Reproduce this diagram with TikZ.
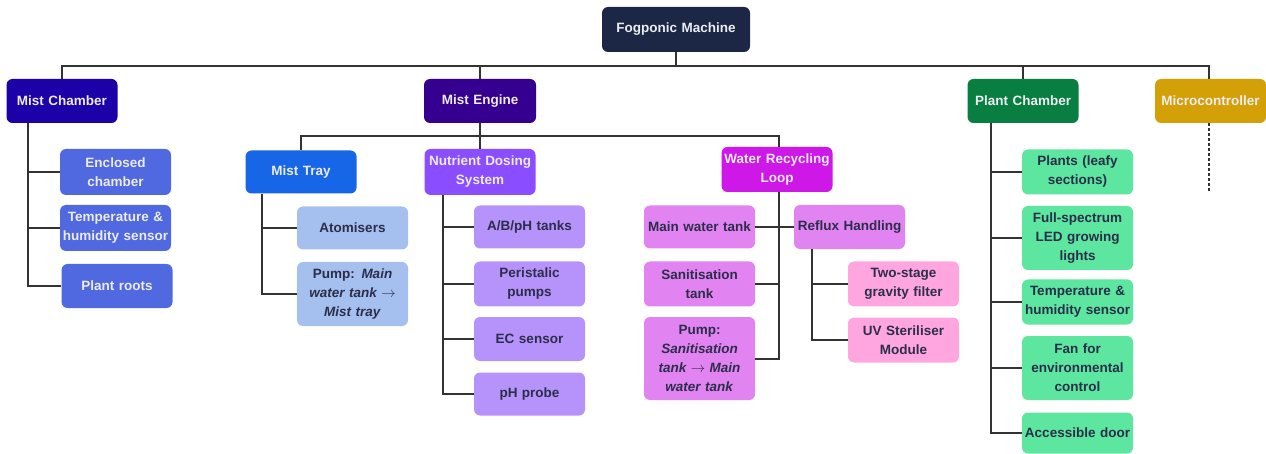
\documentclass[tikz,border=0pt]{standalone}
\usepackage{fontspec}
\setmainfont{Liberation Sans}
\definecolor{rootc}{HTML}{1B2744}
\definecolor{mcc}{HTML}{1C00A8}
\definecolor{mec}{HTML}{35008F}
\definecolor{pcc}{HTML}{087F40}
\definecolor{microc}{HTML}{D4A007}
\definecolor{mcchild}{HTML}{5068E0}
\definecolor{mtc}{HTML}{1766E8}
\definecolor{mtchild}{HTML}{A5C0EE}
\definecolor{ndsc}{HTML}{8A4DFF}
\definecolor{ndschild}{HTML}{B593FB}
\definecolor{wrlc}{HTML}{CD18E8}
\definecolor{wrlchild}{HTML}{E183F1}
\definecolor{refchild}{HTML}{FFA6E0}
\definecolor{pcchild}{HTML}{5CE6A0}
\definecolor{darktext}{HTML}{2B2E4A}
\definecolor{lighttext}{HTML}{ECECF4}
\definecolor{linec}{HTML}{333333}
\newcommand{\myarrow}{$\rightarrow$}
\begin{document}
\begin{tikzpicture}[x=1pt,y=-1pt,
  box/.style={rounded corners=6pt, inner sep=0pt, minimum width=111pt, text width=108pt,
    align=center, font=\fontsize{13.5}{19}\selectfont\bfseries},
  light/.style={box, text=lighttext},
  dark/.style={box, text=darktext},
  conn/.style={draw=linec, line width=2pt}]
\useasboundingbox (0,0) rectangle (1266,454);
% root and level 1
\node[light, fill=rootc, minimum width=148pt, text width=145pt, minimum height=45pt] (root) at (676,29.5) {Fogponic Machine};
\node[light, fill=mcc, minimum height=44pt] (mc) at (62,101) {Mist Chamber};
\node[light, fill=mec, minimum width=112pt, minimum height=44pt] (me) at (480,101) {Mist Engine};
\node[light, fill=pcc, minimum height=44pt] (pc) at (1023,101) {Plant Chamber};
\node[light, fill=microc, minimum height=44pt] (micro) at (1210.5,101) {Microcontroller};
% mist chamber children
\node[light, fill=mcchild, minimum height=46pt] (enc) at (115.5,172) {Enclosed\\chamber};
\node[light, fill=mcchild, minimum height=46pt] (mctemp) at (115.5,228) {Temperature \&\\humidity sensor};
\node[light, fill=mcchild, minimum height=44pt] (roots) at (117,286) {Plant roots};
% mist engine children
\node[light, fill=mtc, minimum height=43pt] (mt) at (301,172) {Mist Tray};
\node[light, fill=ndsc, minimum height=46pt] (nds) at (480,172) {Nutrient Dosing\\System};
\node[light, fill=wrlc, minimum height=45pt] (wrl) at (777,169.5) {Water Recycling\\Loop};
% mist tray children
\node[dark, fill=mtchild, minimum height=43pt] (atom) at (352.5,228) {Atomisers};
\node[dark, fill=mtchild, minimum height=64pt] (pump1) at (352.5,294) {Pump: \textit{Main}\\\textit{water tank \myarrow}\\\textit{Mist tray}};
% nutrient dosing children
\node[dark, fill=ndschild, minimum height=43pt] (abph) at (529.5,227) {A/B/pH tanks};
\node[dark, fill=ndschild, minimum height=45pt] (peri) at (529.5,284) {Peristalic\\pumps};
\node[dark, fill=ndschild, minimum height=44pt] (ec) at (529.5,339) {EC sensor};
\node[dark, fill=ndschild, minimum height=43pt] (ph) at (529.5,394) {pH probe};
% water recycling children
\node[dark, fill=wrlchild, minimum height=43pt] (mwt) at (699.5,227) {Main water tank};
\node[dark, fill=wrlchild, minimum height=45pt] (san) at (699.5,284) {Sanitisation\\tank};
\node[dark, fill=wrlchild, minimum height=83pt] (pump2) at (699.5,358.5) {Pump:\\\textit{Sanitisation}\\\textit{tank \myarrow{} Main}\\\textit{water tank}};
\node[dark, fill=wrlchild, minimum height=44pt] (reflux) at (849.5,227) {Reflux Handling};
% reflux children
\node[dark, fill=refchild, minimum height=45pt] (two) at (903.5,284) {Two-stage\\gravity filter};
\node[dark, fill=refchild, minimum height=45pt] (uv) at (903.5,340) {UV Steriliser\\Module};
% plant chamber children
\node[dark, fill=pcchild, minimum height=45pt] (plants) at (1077.5,172) {Plants (leafy\\sections)};
\node[dark, fill=pcchild, minimum height=64pt] (led) at (1077.5,238) {Full-spectrum\\LED growing\\lights};
\node[dark, fill=pcchild, minimum height=45pt] (pctemp) at (1077.5,302) {Temperature \&\\humidity sensor};
\node[dark, fill=pcchild, minimum height=64pt] (fan) at (1077.5,368) {Fan for\\environmental\\control};
\node[dark, fill=pcchild, minimum height=41pt] (door) at (1077.5,433) {Accessible door};
% helper coordinates
\coordinate (bus1) at (0,66);
\coordinate (bus2) at (0,136);
\coordinate (mcx) at (28,0);
\coordinate (mtx) at (262,0);
\coordinate (ndsx) at (443,0);
\coordinate (wrlx) at (779,0);
\coordinate (refx) at (812,0);
\coordinate (pcx) at (991,0);
\coordinate (microx) at (1209,0);
\coordinate (microend) at (1209,192);
% level 1 connectors
\draw[conn] (mc.north) |- (microx |- bus1) -- (microx |- micro.north);
\draw[conn] (root.south) -- (root.south |- bus1);
\draw[conn] (me.north) -- (me.north |- bus1);
\draw[conn] (pc.north) -- (pc.north |- bus1);
\draw[conn, dash pattern=on 3pt off 2pt] (microx |- micro.south) -- (microend);
% mist chamber
\draw[conn] (mcx |- mc.south) |- (roots.west);
\draw[conn] (mcx |- enc.west) -- (enc.west);
\draw[conn] (mcx |- mctemp.west) -- (mctemp.west);
% mist engine
\draw[conn] (me.south) -- (nds.north);
\draw[conn] (mt.north) |- (wrlx |- bus2) -- (wrlx |- wrl.north);
% mist tray
\draw[conn] (mtx |- mt.south) |- (pump1.west);
\draw[conn] (mtx |- atom.west) -- (atom.west);
% nutrient dosing
\draw[conn] (ndsx |- nds.south) |- (ph.west);
\draw[conn] (ndsx |- abph.west) -- (abph.west);
\draw[conn] (ndsx |- peri.west) -- (peri.west);
\draw[conn] (ndsx |- ec.west) -- (ec.west);
% water recycling
\draw[conn] (wrlx |- wrl.south) |- (pump2.east);
\draw[conn] (mwt.east) -- (mwt.east -| reflux.west);
\draw[conn] (san.east) -- (wrlx |- san.east);
% reflux
\draw[conn] (refx |- reflux.south) |- (uv.west);
\draw[conn] (refx |- two.west) -- (two.west);
% plant chamber
\draw[conn] (pcx |- pc.south) |- (door.west);
\draw[conn] (pcx |- plants.west) -- (plants.west);
\draw[conn] (pcx |- led.west) -- (led.west);
\draw[conn] (pcx |- pctemp.west) -- (pctemp.west);
\draw[conn] (pcx |- fan.west) -- (fan.west);
\end{tikzpicture}
\end{document}
